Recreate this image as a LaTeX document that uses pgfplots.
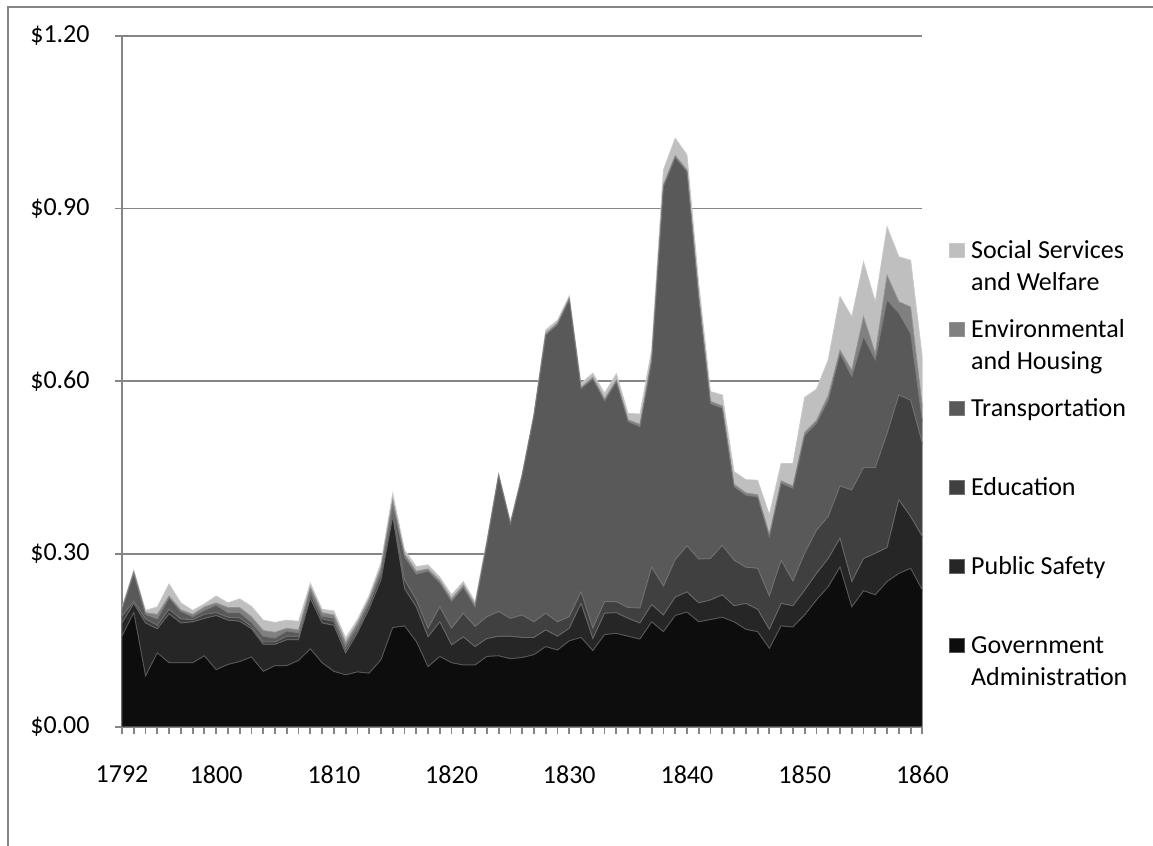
\documentclass[border=0pt]{standalone}
\usepackage{fontspec}
\setmainfont{Carlito}
\usepackage{pgfplots}
\usepackage{pgfplotstable}
\pgfplotsset{compat=1.18}
\definecolor{cgov}{HTML}{0D0D0D}
\definecolor{cps}{HTML}{262626}
\definecolor{cedu}{HTML}{404040}
\definecolor{ctr}{HTML}{595959}
\definecolor{cenv}{HTML}{808080}
\definecolor{csoc}{HTML}{BFBFBF}
\definecolor{cgrid}{HTML}{868686}
\pgfplotstableread{
year gov ps edu tr env soc
1792 0.157 0.023 0.012 0.012 0.001 0.002
1793 0.198 0.016 0.004 0.048 0.003 0.003
1794 0.088 0.092 0.007 0.008 0.003 0.004
1795 0.128 0.042 0.006 0.011 0.008 0.013
1796 0.111 0.085 0.008 0.020 0.003 0.021
1797 0.111 0.069 0.007 0.013 0.003 0.012
1798 0.111 0.071 0.004 0.005 0.004 0.007
1799 0.123 0.065 0.007 0.007 0.006 0.005
1800 0.099 0.094 0.005 0.013 0.004 0.012
1801 0.108 0.077 0.005 0.008 0.009 0.008
1802 0.113 0.070 0.006 0.009 0.009 0.015
1803 0.121 0.049 0.004 0.007 0.010 0.018
1804 0.096 0.047 0.004 0.010 0.010 0.018
1805 0.106 0.037 0.004 0.007 0.010 0.017
1806 0.106 0.045 0.006 0.009 0.005 0.014
1807 0.115 0.036 0.006 0.006 0.005 0.015
1808 0.135 0.088 0.007 0.006 0.006 0.007
1809 0.111 0.069 0.007 0.005 0.006 0.006
1810 0.096 0.080 0.007 0.005 0.006 0.007
1811 0.090 0.038 0.006 0.006 0.006 0.008
1812 0.095 0.068 0.005 0.006 0.006 0.006
1813 0.093 0.112 0.007 0.005 0.005 0.006
1814 0.116 0.139 0.009 0.006 0.006 0.008
1815 0.172 0.193 0.011 0.009 0.009 0.011
1816 0.175 0.065 0.015 0.040 0.005 0.007
1817 0.148 0.060 0.012 0.045 0.005 0.008
1818 0.104 0.052 0.015 0.099 0.004 0.007
1819 0.122 0.060 0.026 0.042 0.004 0.006
1820 0.111 0.031 0.029 0.047 0.004 0.007
1821 0.107 0.049 0.041 0.045 0.004 0.006
1822 0.107 0.032 0.035 0.034 0.004 0.005
1823 0.122 0.031 0.038 0.127 0.002 0.004
1824 0.123 0.034 0.043 0.236 0.001 0.003
1825 0.118 0.039 0.031 0.164 0.001 0.003
1826 0.120 0.035 0.039 0.242 0.001 0.003
1827 0.125 0.030 0.027 0.358 0.001 0.003
1828 0.139 0.029 0.029 0.483 0.003 0.006
1829 0.133 0.024 0.025 0.517 0.002 0.005
1830 0.149 0.022 0.020 0.551 0.002 0.004
1831 0.155 0.059 0.020 0.353 0.002 0.007
1832 0.132 0.021 0.018 0.433 0.003 0.007
1833 0.160 0.037 0.020 0.349 0.003 0.010
1834 0.162 0.036 0.019 0.382 0.003 0.011
1835 0.157 0.031 0.019 0.323 0.003 0.011
1836 0.152 0.028 0.026 0.315 0.004 0.018
1837 0.182 0.030 0.065 0.358 0.005 0.014
1838 0.165 0.029 0.050 0.694 0.003 0.026
1839 0.193 0.032 0.065 0.699 0.003 0.030
1840 0.199 0.035 0.080 0.650 0.003 0.026
1841 0.182 0.033 0.076 0.454 0.003 0.022
1842 0.186 0.034 0.072 0.269 0.004 0.017
1843 0.190 0.039 0.086 0.238 0.004 0.019
1844 0.182 0.028 0.079 0.128 0.004 0.022
1845 0.169 0.045 0.063 0.125 0.004 0.023
1846 0.165 0.039 0.071 0.124 0.004 0.025
1847 0.136 0.033 0.058 0.103 0.004 0.034
1848 0.175 0.039 0.075 0.134 0.004 0.030
1849 0.173 0.037 0.043 0.161 0.004 0.039
1850 0.194 0.043 0.064 0.205 0.005 0.061
1851 0.220 0.046 0.075 0.186 0.005 0.054
1852 0.243 0.049 0.073 0.202 0.008 0.062
1853 0.277 0.050 0.091 0.230 0.006 0.093
1854 0.208 0.044 0.159 0.197 0.011 0.093
1855 0.236 0.056 0.158 0.227 0.035 0.095
1856 0.229 0.072 0.149 0.187 0.011 0.090
1857 0.252 0.059 0.198 0.232 0.043 0.084
1858 0.266 0.128 0.182 0.142 0.020 0.078
1859 0.275 0.090 0.202 0.116 0.046 0.081
1860 0.237 0.093 0.162 0.038 0.025 0.085
}\spend
\newcommand{\lent}[1]{\parbox[t]{95pt}{\raggedright #1}}
\begin{document}
\fontsize{13}{15.9}\selectfont
\begin{tikzpicture}
\useasboundingbox (0,0) rectangle (576.5pt,423pt);
\draw[cgrid, line width=0.75pt] (4pt,0) -- (4pt,419.5pt) -- (576.5pt,419.5pt);
\begin{axis}[
  at={(61pt,59.65pt)}, anchor=south west,
  scale only axis, width=400.2pt, height=345.5pt,
  xmin=1792, xmax=1860, ymin=0, ymax=1.2,
  stack plots=y,
  axis lines*=left,
  axis line style={cgrid, line width=0.9pt},
  ymajorgrids, grid style={cgrid, line width=0.9pt},
  ytick={0,0.3,0.6,0.9,1.2},
  xtick={1792,1800,1810,1820,1830,1840,1850,1860},
  minor xtick={1792,1793,...,1860},
  tick align=outside,
  major tick length=3.5pt, minor tick length=3.5pt,
  tick style={cgrid, line width=0.9pt},
  /pgf/number format/assume math mode=true,
  /pgf/number format/1000 sep={},
  tick label style={font=\fontsize{13}{15.9}\selectfont, text=black},
  xticklabel style={inner sep=0pt, anchor=north, yshift=-16pt},
  yticklabel style={inner sep=0pt, anchor=east, xshift=-12.5pt},
  yticklabel={\$\pgfmathprintnumber[fixed,fixed zerofill,precision=2]{\tick}},
  reverse legend,
  legend style={at={(1.0332,0.7097)}, anchor=north west, draw=none, fill=none,
    inner sep=0pt, row sep=28.3pt,
    nodes={inner sep=0pt, text height=11pt, text depth=0pt},
    cells={anchor=base west},
    font=\fontsize{13}{15.9}\selectfont},
  legend image code/.code={\fill[#1] (0pt,0.8pt) rectangle (7.2pt,7.5pt); \path (10.5pt,0pt);},
]
\addplot[fill=cgov, draw=cgov!70!white, line width=0.4pt] table[x=year,y=gov]{\spend} \closedcycle;
\addlegendentry{\lent{Government\\Administration}}
\addplot[fill=cps, draw=cps!70!white, line width=0.4pt] table[x=year,y=ps]{\spend} \closedcycle;
\addlegendentry{\lent{Public Safety}}
\addplot[fill=cedu, draw=cedu!75!white, line width=0.4pt] table[x=year,y=edu]{\spend} \closedcycle;
\addlegendentry{\lent{Education}}
\addplot[fill=ctr, draw=ctr!80!white, line width=0.4pt] table[x=year,y=tr]{\spend} \closedcycle;
\addlegendentry{\lent{Transportation}}
\addplot[fill=cenv, draw=cenv!85!white, line width=0.4pt] table[x=year,y=env]{\spend} \closedcycle;
\addlegendentry{\lent{Environmental\\and Housing}}
\addplot[fill=csoc, draw=csoc!85!white, line width=0.4pt] table[x=year,y=soc]{\spend} \closedcycle;
\addlegendentry{\lent{Social Services\\and Welfare}}
\end{axis}
\end{tikzpicture}
\end{document}
